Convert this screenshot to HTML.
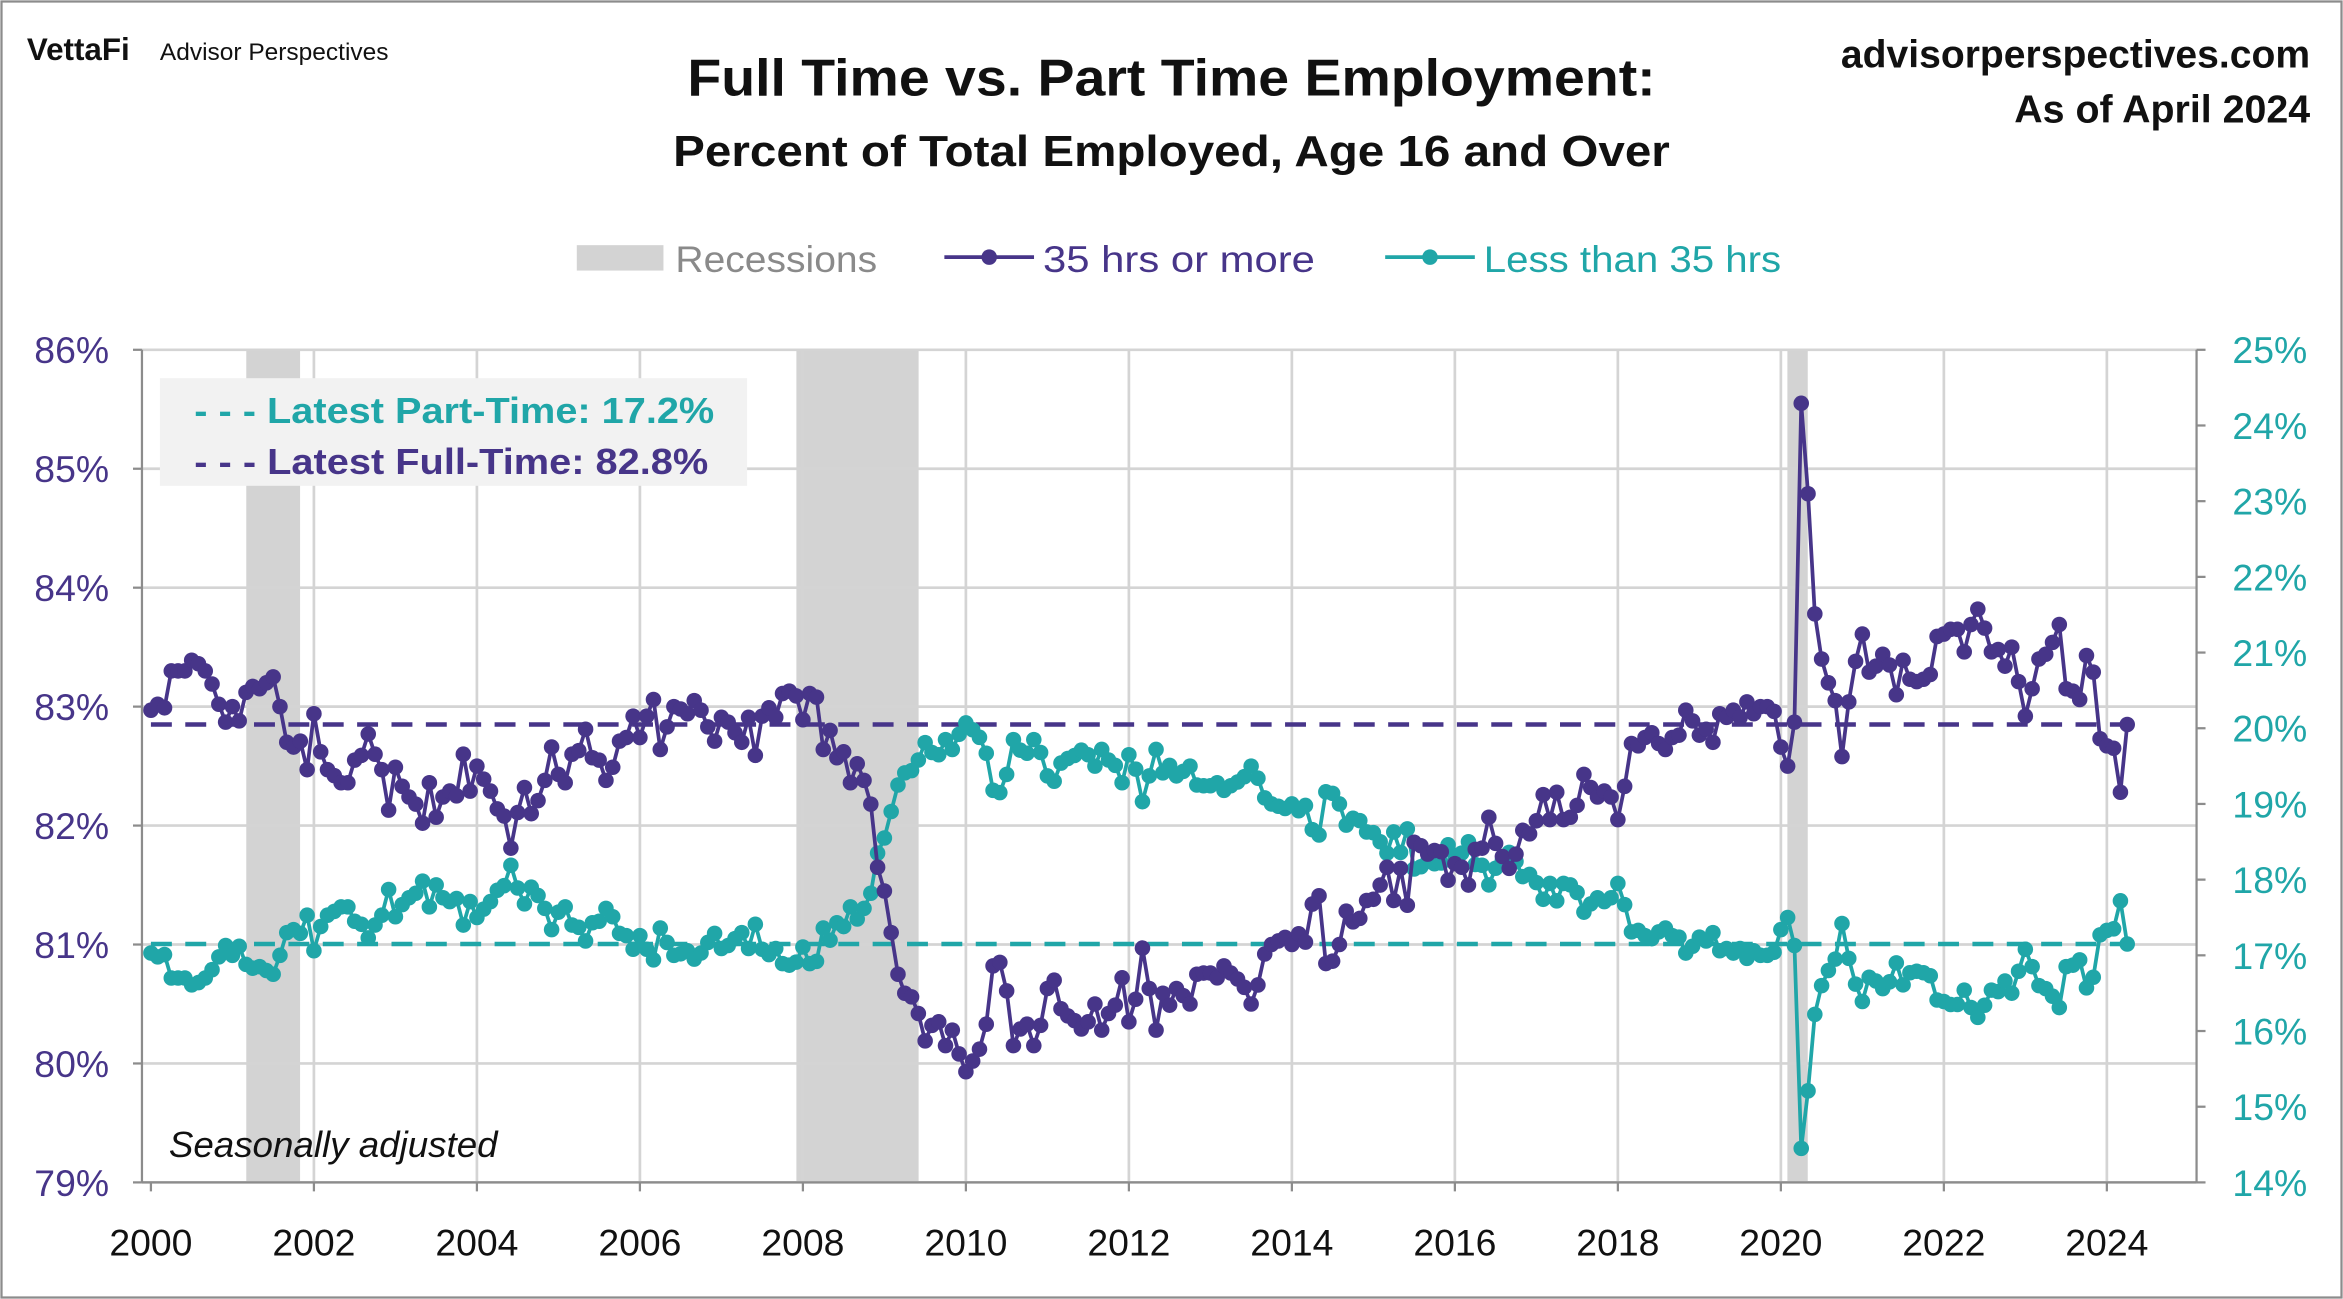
<!DOCTYPE html>
<html><head><meta charset="utf-8"><style>
html,body{margin:0;padding:0;background:#fff;}
svg{display:block;font-family:"Liberation Sans",sans-serif;}
</style></head><body>
<svg id="chart" width="2343" height="1299" viewBox="0 0 1568 869" preserveAspectRatio="none" xmlns="http://www.w3.org/2000/svg">
<rect x="1" y="1" width="1566" height="867" fill="#fff" stroke="#8c8c8c" stroke-width="1.5"/>
<g>
<text x="18" y="40" font-size="21" font-weight="bold" fill="#111">VettaFi</text>
<text x="107" y="40" font-size="16" fill="#111" textLength="153" lengthAdjust="spacingAndGlyphs">Advisor Perspectives</text>
<text x="784" y="64" font-size="35" font-weight="bold" text-anchor="middle" fill="#111" textLength="648" lengthAdjust="spacingAndGlyphs">Full Time vs. Part Time Employment:</text>
<text x="784" y="111" font-size="29" font-weight="bold" text-anchor="middle" fill="#111" textLength="667" lengthAdjust="spacingAndGlyphs">Percent of Total Employed, Age 16 and Over</text>
<text x="1546" y="45" font-size="26" font-weight="bold" text-anchor="end" fill="#111" textLength="314" lengthAdjust="spacingAndGlyphs">advisorperspectives.com</text>
<text x="1546" y="82" font-size="26" font-weight="bold" text-anchor="end" fill="#111" textLength="198" lengthAdjust="spacingAndGlyphs">As of April 2024</text>
</g>
<g>
<rect x="386" y="164" width="58" height="17" fill="#d3d3d3"/>
<text x="452" y="182" font-size="25" fill="#8a8a8a" textLength="135" lengthAdjust="spacingAndGlyphs">Recessions</text>
<line x1="632" y1="172" x2="692" y2="172" stroke="#473589" stroke-width="2.5"/>
<circle cx="662" cy="172" r="5.2" fill="#473589"/>
<text x="698" y="182" font-size="25" fill="#473589" textLength="182" lengthAdjust="spacingAndGlyphs">35 hrs or more</text>
<line x1="927" y1="172" x2="987" y2="172" stroke="#20a6a8" stroke-width="2.5"/>
<circle cx="957" cy="172" r="5.2" fill="#20a6a8"/>
<text x="993" y="182" font-size="25" fill="#20a6a8" textLength="199" lengthAdjust="spacingAndGlyphs">Less than 35 hrs</text>
</g>
<g id="plot"></g>
</svg>
<script>
const years = [2000,2002,2004,2006,2008,2010,2012,2014,2016,2018,2020,2022,2024];
const leftTicks = [79,80,81,82,83,84,85,86];
const rightTicks = [14,15,16,17,18,19,20,21,22,23,24,25];
const recessionStarts = [2001.17, 2007.92, 2020.08];
const recessionEnds = [2001.83, 2009.42, 2020.33];
const latestFullTime = 82.85;
const latestPartTime = 17.15;
const fullTime = [
82.97,83.02,82.99,83.3,83.3,83.3,83.39,83.36,83.3,83.19,83.02,82.87,
83.0,82.88,83.12,83.17,83.15,83.2,83.25,83.0,82.7,82.66,82.71,82.47,
82.94,82.62,82.47,82.42,82.36,82.36,82.55,82.59,82.77,82.6,82.47,82.13,
82.49,82.33,82.24,82.18,82.02,82.36,82.07,82.24,82.29,82.25,82.6,82.29,
82.5,82.39,82.29,82.14,82.08,81.81,82.11,82.32,82.1,82.21,82.38,82.66,
82.43,82.36,82.6,82.63,82.81,82.57,82.55,82.38,82.49,82.71,82.74,82.92,
82.74,82.92,83.06,82.64,82.83,83.0,82.98,82.94,83.05,82.97,82.83,82.71,
82.91,82.87,82.78,82.70,82.91,82.59,82.92,82.99,82.91,83.11,83.13,83.09,
82.89,83.11,83.08,82.64,82.8,82.57,82.62,82.36,82.52,82.38,82.18,81.65,
81.45,81.1,80.75,80.59,80.56,80.42,80.19,80.32,80.35,80.15,80.28,80.08,
79.93,80.02,80.12,80.33,80.82,80.85,80.61,80.15,80.29,80.33,80.15,80.32,
80.63,80.7,80.46,80.4,80.36,80.29,80.35,80.5,80.28,80.42,80.49,80.72,
80.35,80.54,80.97,80.63,80.28,80.59,80.49,80.63,80.57,80.5,80.75,80.76,
80.76,80.72,80.82,80.76,80.71,80.64,80.5,80.66,80.92,81.0,81.03,81.06,
81.0,81.09,81.02,81.34,81.41,80.84,80.86,81.0,81.28,81.19,81.22,81.37,
81.38,81.5,81.65,81.37,81.64,81.33,81.86,81.83,81.76,81.79,81.78,81.54,
81.68,81.65,81.5,81.8,81.81,82.07,81.85,81.74,81.64,81.76,81.96,81.93,
82.04,82.26,82.05,82.28,82.05,82.07,82.17,82.43,82.32,82.24,82.29,82.24,
82.05,82.33,82.69,82.67,82.74,82.78,82.69,82.64,82.74,82.76,82.97,82.88,
82.76,82.81,82.7,82.94,82.91,82.97,82.91,83.04,82.94,83.0,83.0,82.96,
82.66,82.5,82.87,85.55,84.79,83.78,83.4,83.2,83.05,82.58,83.04,83.38,
83.61,83.29,83.34,83.44,83.35,83.1,83.39,83.23,83.21,83.23,83.27,83.59,
83.61,83.65,83.65,83.46,83.69,83.82,83.66,83.46,83.48,83.34,83.5,83.21,
82.92,83.15,83.4,83.44,83.54,83.69,83.15,83.13,83.06,83.43,83.29,82.73,
82.67,82.65,82.28,82.85];
const partTime = [
17.03,16.98,17.01,16.7,16.7,16.7,16.61,16.64,16.7,16.81,16.98,17.13,
17.0,17.12,16.88,16.83,16.85,16.8,16.75,17.0,17.3,17.34,17.29,17.53,
17.06,17.38,17.53,17.58,17.64,17.64,17.45,17.41,17.23,17.4,17.53,17.87,
17.51,17.67,17.76,17.82,17.98,17.64,17.93,17.76,17.71,17.75,17.4,17.71,
17.5,17.61,17.71,17.86,17.92,18.19,17.89,17.68,17.9,17.79,17.62,17.34,
17.57,17.64,17.4,17.37,17.19,17.43,17.45,17.62,17.51,17.29,17.26,17.08,
17.26,17.08,16.94,17.36,17.17,17.0,17.02,17.06,16.95,17.03,17.17,17.29,
17.09,17.13,17.22,17.3,17.09,17.41,17.08,17.01,17.09,16.89,16.87,16.91,
17.11,16.89,16.92,17.36,17.2,17.43,17.38,17.64,17.48,17.62,17.82,18.35,
18.55,18.9,19.25,19.41,19.44,19.58,19.81,19.68,19.65,19.85,19.72,19.92,
20.07,19.98,19.88,19.67,19.18,19.15,19.39,19.85,19.71,19.67,19.85,19.68,
19.37,19.3,19.54,19.6,19.64,19.71,19.65,19.5,19.72,19.58,19.51,19.28,
19.65,19.46,19.03,19.37,19.72,19.41,19.51,19.37,19.43,19.5,19.25,19.24,
19.24,19.28,19.18,19.24,19.29,19.36,19.5,19.34,19.08,19.0,18.97,18.94,
19.0,18.91,18.98,18.66,18.59,19.16,19.14,19.0,18.72,18.81,18.78,18.63,
18.62,18.5,18.35,18.63,18.36,18.67,18.14,18.17,18.24,18.21,18.22,18.46,
18.32,18.35,18.5,18.2,18.19,17.93,18.15,18.26,18.36,18.24,18.04,18.07,
17.96,17.74,17.95,17.72,17.95,17.93,17.83,17.57,17.68,17.76,17.71,17.76,
17.95,17.67,17.31,17.33,17.26,17.22,17.31,17.36,17.26,17.24,17.03,17.12,
17.24,17.19,17.3,17.06,17.09,17.03,17.09,16.96,17.06,17.0,17.0,17.04,
17.34,17.5,17.13,14.45,15.21,16.22,16.6,16.8,16.95,17.42,16.96,16.62,
16.39,16.71,16.66,16.56,16.65,16.9,16.61,16.77,16.79,16.77,16.73,16.41,
16.39,16.35,16.35,16.54,16.31,16.18,16.34,16.54,16.52,16.66,16.5,16.79,
17.08,16.85,16.6,16.56,16.46,16.31,16.85,16.87,16.94,16.57,16.71,17.27,
17.33,17.35,17.72,17.15];

const NS = "http://www.w3.org/2000/svg";
const plot = document.getElementById('plot');
const X0 = 101, PER_YEAR = 54.54, TOP = 234, BOT = 791, LEFT = 95, RIGHT = 1470;
const xYear = y => X0 + (y - 2000) * PER_YEAR;
const xMonth = m => X0 + m * PER_YEAR / 12;
const yLeft = v => TOP + (86 - v) * (BOT - TOP) / 7;
const yRight = v => TOP + (25 - v) * (BOT - TOP) / 11;
function mk(tag, attrs, parent) {
  const el = document.createElementNS(NS, tag);
  for (const k in attrs) el.setAttribute(k, attrs[k]);
  (parent || plot).appendChild(el);
  return el;
}
recessionStarts.forEach((s, i) => {
  const r = mk('rect', {x: xYear(s), y: TOP, width: xYear(recessionEnds[i]) - xYear(s), height: BOT - TOP, fill: '#d3d3d3'});
  
  
});
leftTicks.forEach(t => {
  const l = mk('line', {x1: LEFT, x2: RIGHT, y1: yLeft(t), y2: yLeft(t), stroke: '#d4d4d4', 'stroke-width': 1.8});
  
  
});
years.forEach(yr => {
  if (yr === 2000) return;
  const l = mk('line', {x1: xYear(yr), x2: xYear(yr), y1: TOP, y2: BOT, stroke: '#d4d4d4', 'stroke-width': 1.8});
  
  
});
const ax1 = mk('line', {x1: LEFT, x2: LEFT, y1: TOP, y2: BOT, stroke: '#8c8c8c', 'stroke-width': 1.5});


const ax2 = mk('line', {x1: RIGHT, x2: RIGHT, y1: TOP, y2: BOT, stroke: '#8c8c8c', 'stroke-width': 1.5});


const ax3 = mk('line', {x1: LEFT, x2: RIGHT, y1: BOT, y2: BOT, stroke: '#8c8c8c', 'stroke-width': 1.5});


leftTicks.forEach(t => {
  mk('line', {x1: LEFT - 6, x2: LEFT, y1: yLeft(t), y2: yLeft(t), stroke: '#8c8c8c', 'stroke-width': 1.5});
  const tx = mk('text', {x: 73, y: yLeft(t) + 9, 'font-size': 25, fill: '#473589', 'text-anchor': 'end'});
  tx.textContent = t + '%';
  
  
});
rightTicks.forEach(t => {
  mk('line', {x1: RIGHT, x2: RIGHT + 6, y1: yRight(t), y2: yRight(t), stroke: '#8c8c8c', 'stroke-width': 1.5});
  const tx = mk('text', {x: 1494, y: yRight(t) + 9, 'font-size': 25, fill: '#20a6a8'});
  tx.textContent = t + '%';
  
  
});
years.forEach(yr => {
  mk('line', {x1: xYear(yr), x2: xYear(yr), y1: BOT, y2: BOT + 6, stroke: '#8c8c8c', 'stroke-width': 1.5});
  const tx = mk('text', {x: xYear(yr), y: 840, 'font-size': 25, fill: '#111', 'text-anchor': 'middle'});
  tx.textContent = yr;
  
  
});
const d1 = mk('line', {x1: X0, x2: xMonth(fullTime.length - 1), y1: yLeft(latestFullTime), y2: yLeft(latestFullTime), stroke: '#473589', 'stroke-width': 3, 'stroke-dasharray': '14 9'});


const d2 = mk('line', {x1: X0, x2: xMonth(partTime.length - 1), y1: yRight(latestPartTime), y2: yRight(latestPartTime), stroke: '#20a6a8', 'stroke-width': 3, 'stroke-dasharray': '14 9'});


function series(vals, yf, color, name) {
  const g = mk('g', {});
  
  
  const pts = vals.map((v, i) => xMonth(i).toFixed(2) + ',' + yf(v).toFixed(2)).join(' ');
  const pl = mk('polyline', {points: pts, fill: 'none', stroke: color, 'stroke-width': 2.5}, g);
  
  
  vals.forEach((v, i) => {
    const c = mk('circle', {cx: xMonth(i), cy: yf(v), r: 5.2, fill: color}, g);
    
    
  });
}
series(partTime, yRight, '#20a6a8', 'part-time');
series(fullTime, yLeft, '#473589', 'full-time');
const box = mk('rect', {x: 107, y: 253, width: 393, height: 72, fill: '#f2f2f2'});


const t1 = mk('text', {x: 130, y: 283, 'font-size': 24, 'font-weight': 'bold', fill: '#20a6a8', textLength: 348, lengthAdjust: 'spacingAndGlyphs'});
t1.textContent = '- - - Latest Part-Time: 17.2%';


const t2 = mk('text', {x: 130, y: 317, 'font-size': 24, 'font-weight': 'bold', fill: '#473589', textLength: 344, lengthAdjust: 'spacingAndGlyphs'});
t2.textContent = '- - - Latest Full-Time: 82.8%';


const sa = mk('text', {x: 113, y: 774, 'font-size': 24, 'font-style': 'italic', fill: '#111', textLength: 220, lengthAdjust: 'spacingAndGlyphs'});
sa.textContent = 'Seasonally adjusted';


</script>
</body></html>
